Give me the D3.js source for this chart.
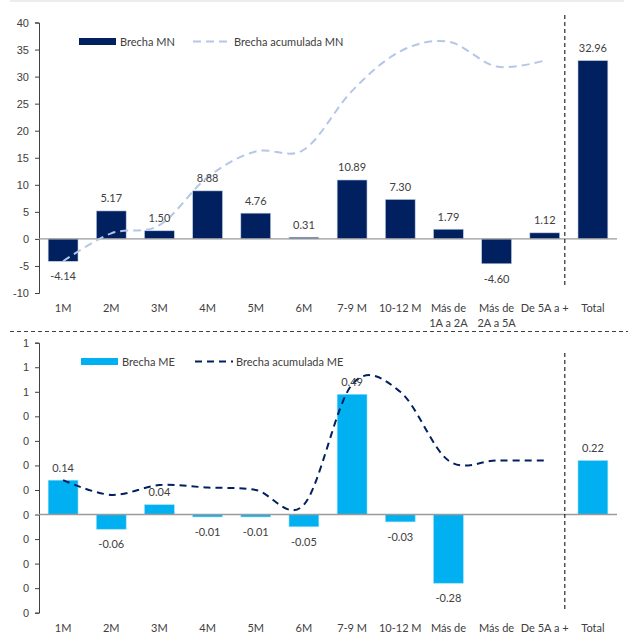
<!DOCTYPE html>
<html>
<head>
<meta charset="utf-8">
<script src="https://cdn.jsdelivr.net/npm/d3@7"></script>
<style>
  body { margin: 0; background: #fff; }
  svg { display: block; font-family: Lato, 'Open Sans', sans-serif; }
  .tick text { font-size: 11px; fill: #404040; }
  .label { font-size: 11px; fill: #404040; }
  .cat { font-size: 11px; fill: #404040; }
  .legend { font-size: 11px; fill: #404040; }
</style>
</head>
<body>
<svg width="628" height="636"></svg>
<script>
const categories = ['1M', '2M', '3M', '4M', '5M', '6M', '7-9 M', '10-12 M',
    'Más de\n1A a 2A', 'Más de\n2A a 5A', 'De 5A a +', 'Total'];

// moneda nacional
const brechaMN = [-4.14, 5.17, 1.50, 8.88, 4.76, 0.31, 10.89, 7.30, 1.79, -4.60, 1.12, 32.96];
const acumuladaMN = [-4.14, 1.03, 2.53, 11.41, 16.17, 16.48, 27.37, 34.67, 36.46, 31.86, 32.98];
const mnTicks = [-10, -5, 0, 5, 10, 15, 20, 25, 30, 35, 40];

// moneda extranjera
const brechaME = [0.14, -0.06, 0.04, -0.01, -0.01, -0.05, 0.49, -0.03, -0.28, null, null, 0.22];
const acumuladaME = [0.14, 0.08, 0.12, 0.11, 0.10, 0.04, 0.53, 0.50, 0.22, 0.22, 0.22];
const meTicks = [-0.4, -0.3, -0.2, -0.1, 0, 0.1, 0.2, 0.3, 0.4, 0.5, 0.6, 0.7];
const meTickLabels = ['0', '0', '0', '0', '0', '0', '0', '0', '0', '1', '1', '1'];

const svg = d3.select('svg');

const left = 39;
const right = 617;

// plain hyphen for negatives, like the original
const fmt2 = (v) => d3.format('.2f')(v).replace('\u2212', '-');
const fmt0 = (v) => d3.format('d')(v).replace('\u2212', '-');

const xScale = d3.scaleBand()
    .domain(categories)
    .range([left, right])
    .paddingInner(0.38)
    .paddingOuter(0.19);

const cx = (c) => xScale(c) + xScale.bandwidth() / 2;
const sepX = (cx('De 5A a +') + cx('Total')) / 2 - 4;

// top border and panel separator
svg.append('line')
    .attr('x1', 10).attr('x2', 624)
    .attr('y1', 1).attr('y2', 1)
    .attr('stroke', '#d9d9d9')
    .attr('stroke-width', 1);

svg.append('line')
    .attr('x1', 10).attr('x2', 628)
    .attr('y1', 331.5).attr('y2', 331.5)
    .attr('stroke', '#404040')
    .attr('stroke-dasharray', '4,3');

function drawPanel(opts) {
    const yScale = d3.scaleLinear()
        .domain(opts.domain)
        .range(opts.range);

    const g = svg.append('g');

    // y axis
    g.append('g')
        .attr('transform', `translate(${left}, 0)`)
        .call(d3.axisLeft(yScale)
            .tickValues(opts.ticks)
            .tickSize(4)
            .tickPadding(6)
            .tickFormat((d, i) => opts.tickLabels ? opts.tickLabels[i] : fmt0(d)))
        .call((a) => a.select('.domain').attr('stroke', '#404040'))
        .call((a) => a.selectAll('.tick line').attr('stroke', '#404040'))
        .call((a) => a.selectAll('.tick text').attr('font-family', null));

    // bars
    const bars = categories.map((c, i) => ({ c: c, v: opts.values[i] }))
        .filter((d) => d.v !== null);

    g.selectAll('.bar')
        .data(bars)
        .enter()
        .append('rect')
        .attr('x', (d) => xScale(d.c))
        .attr('y', (d) => yScale(Math.max(0, d.v)))
        .attr('width', xScale.bandwidth())
        .attr('height', (d) => Math.abs(yScale(d.v) - yScale(0)))
        .attr('fill', opts.barColor)
        .attr('stroke', opts.barStroke)
        .attr('stroke-width', 0.6);

    // zero line
    g.append('line')
        .attr('x1', left).attr('x2', right)
        .attr('y1', yScale(0)).attr('y2', yScale(0))
        .attr('stroke', '#9a9a9a')
        .attr('stroke-width', 1.3);

    // cumulative line
    const lineData = categories.slice(0, opts.cumulative.length)
        .map((c, i) => ({ c: c, v: opts.cumulative[i] }));

    g.append('path')
        .datum(lineData)
        .attr('fill', 'none')
        .attr('stroke', opts.lineColor)
        .attr('stroke-width', 2)
        .attr('stroke-dasharray', opts.dash)
        .attr('d', d3.line()
            .x((d) => cx(d.c))
            .y((d) => yScale(d.v))
            .curve(d3.curveCardinal.tension(0)));

    // value labels
    g.selectAll('.val')
        .data(bars)
        .enter()
        .append('text')
        .attr('class', 'label')
        .attr('x', (d) => cx(d.c))
        .attr('y', (d) => d.v >= 0 ? yScale(d.v) - 8.5 : yScale(d.v) + 19)
        .attr('text-anchor', 'middle')
        .text((d) => fmt2(d.v));

    // category labels (bottom panel only shows the first line, the rest falls off the page)
    const cats = g.selectAll('.cat')
        .data(categories)
        .enter()
        .append('text')
        .attr('class', 'cat')
        .attr('x', (c) => cx(c))
        .attr('y', opts.catY)
        .attr('text-anchor', 'middle');

    cats.selectAll('tspan')
        .data((c) => c.split('\n').slice(0, opts.catLines).map((t) => ({ t: t, c: c })))
        .enter()
        .append('tspan')
        .attr('x', (d) => cx(d.c))
        .attr('dy', (d, i) => i === 0 ? 0 : 14.5)
        .text((d) => d.t);

    // separator before Total
    g.append('line')
        .attr('x1', sepX).attr('x2', sepX)
        .attr('y1', opts.sepY[0]).attr('y2', opts.sepY[1])
        .attr('stroke', '#000')
        .attr('stroke-width', 1)
        .attr('stroke-dasharray', '4,3');

    // legend
    const lg = g.append('g')
        .attr('transform', `translate(${opts.legend[0]}, ${opts.legend[1]})`);

    lg.append('rect')
        .attr('x', 0).attr('y', -3.5)
        .attr('width', 37).attr('height', 7)
        .attr('fill', opts.barColor);

    lg.append('text')
        .attr('class', 'legend')
        .attr('x', 41).attr('y', 4)
        .text(opts.names[0]);

    lg.append('line')
        .attr('x1', 114).attr('x2', 152)
        .attr('y1', 0).attr('y2', 0)
        .attr('stroke', opts.lineColor)
        .attr('stroke-width', 2)
        .attr('stroke-dasharray', opts.dash);

    lg.append('text')
        .attr('class', 'legend')
        .attr('x', 155).attr('y', 4)
        .text(opts.names[1]);
}

drawPanel({
    domain: [-10, 40],
    range: [293, 22.5],
    ticks: mnTicks,
    values: brechaMN,
    cumulative: acumuladaMN,
    barColor: '#002060',
    barStroke: '#c5cfe3',
    lineColor: '#b4c7e7',
    dash: '8,5',
    catY: 312,
    catLines: 2,
    sepY: [15, 288],
    legend: [79, 41.5],
    names: ['Brecha MN', 'Brecha acumulada MN']
});

drawPanel({
    domain: [-0.4, 0.7],
    range: [612.7, 342.7],
    ticks: meTicks,
    tickLabels: meTickLabels,
    values: brechaME,
    cumulative: acumuladaME,
    barColor: '#00b0f0',
    barStroke: '#9fe0f8',
    lineColor: '#002060',
    dash: '7,5',
    catY: 632,
    catLines: 1,
    sepY: [353, 612],
    legend: [81, 361.5],
    names: ['Brecha ME', 'Brecha acumulada ME']
});
</script>
</body>
</html>
